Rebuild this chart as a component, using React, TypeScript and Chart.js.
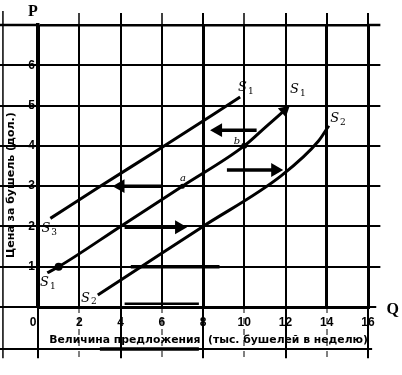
import React, { useEffect, useRef } from 'react';
import { Chart, registerables } from 'chart.js';

Chart.register(...registerables);

// Axis ticks
const xTicks = [0, 2, 4, 6, 8, 10, 12, 14, 16];
const yTicks = [0, 1, 2, 3, 4, 5, 6, 7];
const thickX = [0, 8, 14, 16];

// Supply curves (Q = thousand bushels per week, P = dollars per bushel)
const s3Q = [0.6, 3.0, 6.0, 9.8];
const s3P = [2.2, 2.99, 3.96, 5.21];
const s1Q = [0.45, 1, 4, 7, 10, 11.06, 11.95];
const s1P = [0.85, 1, 2, 3, 4, 4.48, 4.88];
const s2Q = [2.9, 5, 8, 11.8, 13.6, 14.1];
const s2P = [0.3, 1, 2, 3.26, 4.12, 4.5];

// Marked points
const dotQ = [1, 7, 10];
const dotP = [1, 3, 4];

// Shift arrows: from Q, to Q (arrowhead centre), at price P
const arrowFromQ = [6.05, 4.2, 10.6, 9.16];
const arrowToQ = [4.0, 6.84, 8.73, 11.5];
const arrowP = [3.0, 1.98, 4.39, 3.4];

// Texts on the plot
const curveLabels = ['S|1', 'S|1', 'S|2', 'S|3', 'S|1', 'S|2', 'a', 'b'];
const curveLabelQ = [10.08, 12.6, 14.55, 0.55, 0.48, 2.47, 7.03, 9.65];
const curveLabelP = [5.44, 5.39, 4.67, 1.94, 0.6, 0.22, 3.2, 4.12];

const xTitle = '\u00A0\u00A0\u00A0Величина предложения  (тыс. бушелей в неделю)';
const yTitle = 'Цена за бушель (дол.)' + '\u00A0'.repeat(10);

const pts = (q: number[], p: number[]) => q.map((v, i) => ({ x: v, y: p[i] }));

const framePlugin = {
  id: 'frame',
  beforeDraw(chart: any) {
    const { ctx } = chart;
    const xs = chart.scales.x;
    const ys = chart.scales.y;
    const ca = chart.chartArea;
    const X = (v: number) => xs.getPixelForValue(v);
    const Y = (v: number) => ys.getPixelForValue(v);
    ctx.save();
    ctx.fillStyle = '#fff';
    ctx.fillRect(0, 0, chart.width, chart.height);
    ctx.strokeStyle = '#000';
    const line = (x1: number, y1: number, x2: number, y2: number, w: number, dash: number[] = []) => {
      ctx.beginPath();
      ctx.lineWidth = w;
      ctx.setLineDash(dash);
      ctx.moveTo(x1, y1);
      ctx.lineTo(x2, y2);
      ctx.stroke();
    };
    // vertical grid extensions
    xTicks.forEach((v) => {
      const px = Math.round(X(v));
      const major = v % 4 === 0;
      if (v !== 0) line(px, Y(7.3), px, ca.top, major || thickX.includes(v) ? 2 : 1.5);
      line(px, ca.bottom, px, Y(-1.27), major ? 2 : 1, major ? [] : [6, 5]);
    });
    // horizontal grid extensions
    yTicks.forEach((v) => {
      const py = Math.round(Y(v));
      line(X(-1.85), py, ca.left, py, v === 7 ? 2.5 : 2);
      line(ca.right, py, X(v === 0 ? 16.4 : 16.6), py, v === 7 ? 2.5 : 2);
    });
    // outer frame strokes of the scanned page
    line(X(-1.7), Y(7.35), X(-1.7), Y(-1.27), 1.5);
    line(X(-1.85), Y(-1.04), X(16.2), Y(-1.04), 2);
    line(X(3.0), Y(-1.04), X(7.8), Y(-1.04), 3.5);
    line(X(4.5), Y(1), X(8.8), Y(1), 3.5);
    line(X(4.2), Y(0.08), X(7.8), Y(0.08), 2.5);
    ctx.restore();
  },
  afterDraw(chart: any) {
    const { ctx } = chart;
    const xs = chart.scales.x;
    const ys = chart.scales.y;
    ctx.save();
    ctx.fillStyle = '#000';
    ctx.textBaseline = 'middle';
    ctx.textAlign = 'center';
    curveLabels.forEach((t, i) => {
      const px = xs.getPixelForValue(curveLabelQ[i]);
      const py = ys.getPixelForValue(curveLabelP[i]);
      if (t.includes('|')) {
        const [a, b] = t.split('|');
        ctx.font = 'italic 13px "DejaVu Serif"';
        ctx.textAlign = 'right';
        ctx.fillText(a, px + 1, py);
        ctx.font = '9px "DejaVu Serif"';
        ctx.textAlign = 'left';
        ctx.fillText(b, px + 2, py + 4);
      } else {
        ctx.font = 'italic 10px "DejaVu Serif"';
        ctx.textAlign = 'center';
        ctx.fillText(t, px, py);
      }
    });
    ctx.font = 'bold 16px "Liberation Serif"';
    ctx.textAlign = 'center';
    ctx.fillText('P', xs.getPixelForValue(-0.25), ys.getPixelForValue(7.32));
    ctx.fillText('Q', xs.getPixelForValue(17.2), ys.getPixelForValue(-0.08));
    ctx.restore();
  },
};

export default function App() {
  const ref = useRef<HTMLCanvasElement>(null);
  useEffect(() => {
    if (!ref.current) return;
    const curve = (q: number[], p: number[]) => ({
      data: pts(q, p),
      showLine: true,
      borderColor: '#000',
      borderWidth: 3,
      pointRadius: 0,
      cubicInterpolationMode: 'monotone' as const,
    });
    const shafts = arrowFromQ.map((f, i) => ({
      data: [
        { x: f, y: arrowP[i] },
        { x: arrowToQ[i], y: arrowP[i] },
      ],
      showLine: true,
      borderColor: '#000',
      borderWidth: 3.5,
      pointRadius: 0,
    }));
    const chart = new Chart(ref.current, {
      type: 'scatter',
      data: {
        datasets: [
          curve(s3Q, s3P),
          curve(s1Q, s1P),
          curve(s2Q, s2P),
          ...shafts,
          {
            data: pts(arrowToQ, arrowP),
            pointStyle: 'triangle',
            pointRadius: 8,
            pointRotation: arrowToQ.map((t, i) => (t > arrowFromQ[i] ? 90 : -90)),
            backgroundColor: '#000',
            borderWidth: 0,
          },
          {
            data: [{ x: s1Q[s1Q.length - 1], y: s1P[s1P.length - 1] }],
            pointStyle: 'triangle',
            pointRadius: 7,
            pointRotation: 49,
            backgroundColor: '#000',
            borderWidth: 0,
          },
          {
            data: pts(dotQ, dotP),
            pointRadius: [4, 2.5, 3],
            backgroundColor: '#000',
            borderWidth: 0,
          },
        ] as any,
      },
      options: {
        animation: false,
        responsive: false,
        events: [],
        layout: { padding: { left: 0, top: 25, right: 34, bottom: 0 } },
        plugins: { legend: { display: false }, tooltip: { enabled: false } },
        scales: {
          x: {
            type: 'linear',
            min: 0,
            max: 16,
            afterBuildTicks: (s: any) => {
              s.ticks = xTicks.map((v) => ({ value: v }));
            },
            afterFit: (s: any) => {
              s.height = 68;
            },
            ticks: {
              color: '#000',
              font: { family: '"Liberation Sans"', size: 12, weight: 'bold' },
              padding: 8,
              maxRotation: 0,
              callback: (v: any) => (v === 0 ? '0\u00A0\u00A0\u00A0' : String(v)),
            },
            grid: {
              color: '#000',
              drawTicks: false,
              lineWidth: (c: any) => (thickX.includes(c.tick?.value) ? 3 : 2),
            },
            border: { color: '#000', width: 3 },
            title: {
              display: true,
              text: xTitle,
              color: '#000',
              font: { family: '"DejaVu Sans"', size: 11, weight: 'bold' },
              padding: { top: 0, bottom: 28 },
            },
          },
          y: {
            type: 'linear',
            min: 0,
            max: 7,
            afterBuildTicks: (s: any) => {
              s.ticks = yTicks.map((v) => ({ value: v }));
            },
            afterFit: (s: any) => {
              s.width = 38;
            },
            ticks: {
              color: '#000',
              font: { family: '"Liberation Sans"', size: 12, weight: 'bold' },
              padding: 3,
              callback: (v: any) => (v === 0 || v === 7 ? '' : String(v)),
            },
            grid: {
              color: '#000',
              drawTicks: false,
              lineWidth: (c: any) => (c.tick?.value === 7 ? 2.5 : 2),
            },
            border: { color: '#000', width: 3.5 },
            title: {
              display: true,
              text: yTitle,
              color: '#000',
              font: { family: '"DejaVu Sans"', size: 11, weight: 'bold' },
              padding: { top: 5, bottom: 0 },
            },
          },
        },
      } as any,
      plugins: [framePlugin],
    });
    return () => chart.destroy();
  }, []);
  return (
    <div style={{ position: 'absolute', left: 0, top: 0, width: 402, height: 375, background: '#fff' }}>
      <canvas ref={ref} width={402} height={375} style={{ width: 402, height: 375, display: 'block' }} />
    </div>
  );
}
